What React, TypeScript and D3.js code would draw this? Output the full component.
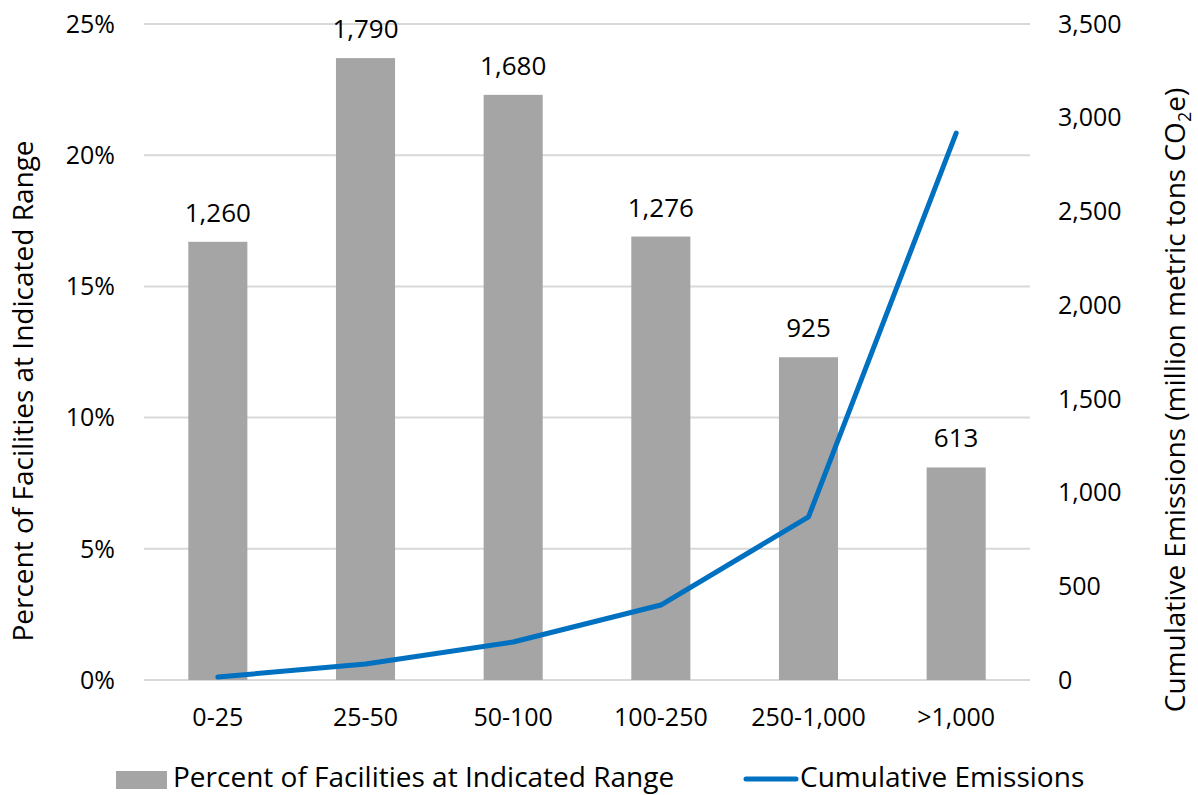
import * as d3 from 'd3';
import React, { useEffect, useRef } from 'react';

const categories = ['0-25', '25-50', '50-100', '100-250', '250-1,000', '>1,000'];
const facilityCounts = [1260, 1790, 1680, 1276, 925, 613];
const percentFacilities = [16.7, 23.7, 22.3, 16.9, 12.3, 8.1];
const cumulativeEmissions = [16, 85, 203, 400, 870, 2918];
const leftTicks = [0, 5, 10, 15, 20, 25];
const rightTicks = [0, 500, 1000, 1500, 2000, 2500, 3000, 3500];

const width = 1198;
const height = 795;
const FONT = '"Open Sans", "Noto Sans", sans-serif';

const App: React.FC = () => {
  const svgRef = useRef<SVGSVGElement>(null);

  useEffect(() => {
    if (!svgRef.current) return;
    const svg = d3.select(svgRef.current);
    svg.selectAll('*').remove();

    const plot = { left: 144, right: 1030, top: 24, bottom: 680 };

    const x = d3.scaleBand<string>()
      .domain(categories)
      .range([plot.left, plot.right])
      .paddingInner(0.6)
      .paddingOuter(0.3);

    const yLeft = d3.scaleLinear().domain([0, 25]).range([plot.bottom, plot.top]);
    const yRight = d3.scaleLinear().domain([0, 3500]).range([plot.bottom, plot.top]);

    const g = svg.append('g').attr('font-family', FONT).attr('fill', '#000');

    // gridlines
    g.append('g')
      .selectAll('line')
      .data(leftTicks)
      .join('line')
      .attr('x1', plot.left)
      .attr('x2', plot.right)
      .attr('y1', d => yLeft(d))
      .attr('y2', d => yLeft(d))
      .attr('stroke', '#d9d9d9')
      .attr('stroke-width', 2);

    // left tick labels
    g.append('g')
      .selectAll('text')
      .data(leftTicks)
      .join('text')
      .attr('x', 115)
      .attr('y', d => yLeft(d))
      .attr('dy', '0.35em')
      .attr('text-anchor', 'end')
      .attr('font-size', 25)
      .text(d => `${d}%`);

    // right tick labels
    g.append('g')
      .selectAll('text')
      .data(rightTicks)
      .join('text')
      .attr('x', 1058)
      .attr('y', d => yRight(d))
      .attr('dy', '0.35em')
      .attr('text-anchor', 'start')
      .attr('font-size', 25)
      .text(d => d3.format(',')(d));

    // bars
    g.append('g')
      .selectAll('rect')
      .data(categories)
      .join('rect')
      .attr('x', d => x(d) || 0)
      .attr('y', (d, i) => yLeft(percentFacilities[i]))
      .attr('width', x.bandwidth())
      .attr('height', (d, i) => plot.bottom - yLeft(percentFacilities[i]))
      .attr('fill', '#a5a5a5');

    // bar value labels
    g.append('g')
      .selectAll('text')
      .data(categories)
      .join('text')
      .attr('x', d => (x(d) || 0) + x.bandwidth() / 2)
      .attr('y', (d, i) => yLeft(percentFacilities[i]) - 20)
      .attr('text-anchor', 'middle')
      .attr('font-size', 26)
      .text((d, i) => d3.format(',')(facilityCounts[i]));

    // category labels
    g.append('g')
      .selectAll('text')
      .data(categories)
      .join('text')
      .attr('x', d => (x(d) || 0) + x.bandwidth() / 2)
      .attr('y', 726)
      .attr('text-anchor', 'middle')
      .attr('font-size', 25)
      .text(d => d);

    // cumulative emissions line
    const line = d3.line<number>()
      .x((d, i) => (x(categories[i]) || 0) + x.bandwidth() / 2)
      .y(d => yRight(d));

    g.append('path')
      .datum(cumulativeEmissions)
      .attr('d', line)
      .attr('fill', 'none')
      .attr('stroke', '#0070c0')
      .attr('stroke-width', 5)
      .attr('stroke-linejoin', 'round')
      .attr('stroke-linecap', 'round');

    // left axis title
    g.append('text')
      .attr('transform', `translate(33, 391) rotate(-90)`)
      .attr('text-anchor', 'middle')
      .attr('font-size', 28)
      .text('Percent of Facilities at Indicated Range');

    // right axis title
    const rt = g.append('text')
      .attr('transform', `translate(1185, 400) rotate(-90)`)
      .attr('text-anchor', 'middle')
      .attr('font-size', 28);
    rt.append('tspan').text('Cumulative Emissions (million metric tons CO');
    rt.append('tspan').attr('font-size', 18).attr('dy', 6).text('2');
    rt.append('tspan').attr('dy', -6).text('e)');

    // legend
    const legend = g.append('g');
    legend.append('rect')
      .attr('x', 116)
      .attr('y', 771)
      .attr('width', 51)
      .attr('height', 18)
      .attr('fill', '#a5a5a5');
    legend.append('text')
      .attr('x', 173)
      .attr('y', 787)
      .attr('font-size', 28)
      .text('Percent of Facilities at Indicated Range');
    legend.append('line')
      .attr('x1', 746)
      .attr('x2', 796)
      .attr('y1', 779)
      .attr('y2', 779)
      .attr('stroke', '#0070c0')
      .attr('stroke-width', 5)
      .attr('stroke-linecap', 'round');
    legend.append('text')
      .attr('x', 800)
      .attr('y', 787)
      .attr('font-size', 28)
      .text('Cumulative Emissions');
  }, []);

  return (
    <div style={{ position: 'absolute', left: 0, top: 0, background: '#fff' }}>
      <svg ref={svgRef} width={width} height={height} style={{ display: 'block' }} />
    </div>
  );
};

export default App;
